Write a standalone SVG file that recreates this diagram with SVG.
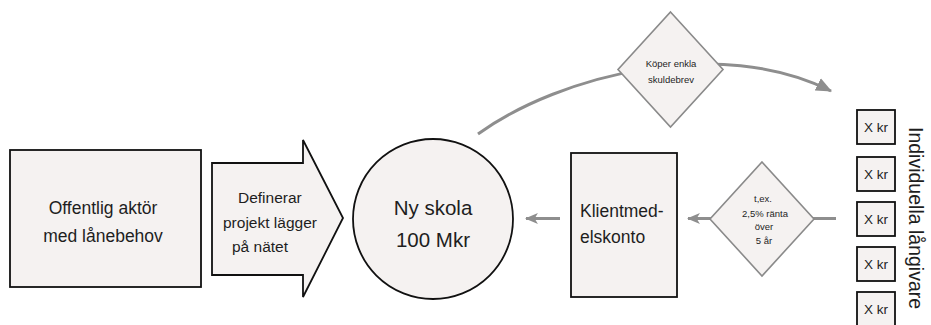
<svg xmlns="http://www.w3.org/2000/svg" width="931" height="325" viewBox="0 0 931 325">
  <style>
    .box { fill: #f5f2f1; stroke: #111; stroke-width: 1.8; }
    .dia { fill: #f5f2f1; stroke: #8a8a8a; stroke-width: 1.6; }
    .conn { fill: none; stroke: #8e8e8e; stroke-width: 3; }
    .t { font-family: "Liberation Sans", Arial, Helvetica, sans-serif; fill: #1e1e1e; }
    .big { font-size: 17.5px; }
    .mid { font-size: 15.5px; }
    .huge { font-size: 20.5px; }
    .small { font-size: 9.5px; }
    .kr { font-size: 13.5px; }
  </style>
  <defs>
    <marker id="headSmall" viewBox="0 0 12 10" refX="11" refY="5" markerUnits="userSpaceOnUse" markerWidth="13" markerHeight="11" orient="auto">
      <path d="M0,0 L12,5 L0,10 L3,5 Z" fill="#8e8e8e"/>
    </marker>
    <marker id="headBig" viewBox="0 0 14 12" refX="13" refY="6" markerUnits="userSpaceOnUse" markerWidth="16" markerHeight="14" orient="auto">
      <path d="M0,0 L14,6 L0,12 Z" fill="#8e8e8e"/>
    </marker>
  </defs>

  <!-- connectors -->
  <g id="connectors">
    <path class="conn" d="M478,134 C560,75 720,35 831,91" marker-end="url(#headBig)"/>
    <line class="conn" x1="836" y1="218.5" x2="810" y2="218.5"/>
    <line class="conn" x1="712" y1="218.5" x2="688" y2="218.5" marker-end="url(#headSmall)"/>
    <line class="conn" x1="560" y1="218.5" x2="526" y2="218.5" marker-end="url(#headSmall)"/>
  </g>

  <g id="actor">
    <rect class="box" x="10" y="150" width="191" height="137"/>
    <text class="t big" x="103" y="214" text-anchor="middle">Offentlig aktör</text>
    <text class="t big" x="103" y="242" text-anchor="middle">med lånebehov</text>
  </g>

  <g id="define">
    <path class="box" d="M212,163 L303,163 L303,140 L343,218 L303,297 L303,275 L212,275 Z"/>
    <text class="t mid" x="238" y="203">Definerar</text>
    <text class="t mid" x="223" y="228">projekt lägger</text>
    <text class="t mid" x="232" y="252">på nätet</text>
  </g>

  <g id="school">
    <circle class="box" cx="433" cy="219" r="80"/>
    <text class="t huge" x="433" y="215" text-anchor="middle">Ny skola</text>
    <text class="t huge" x="433" y="246.5" text-anchor="middle">100 Mkr</text>
  </g>

  <g id="account">
    <rect class="box" x="571" y="153" width="106" height="144"/>
    <text class="t big" x="580" y="216.5">Klientmed-</text>
    <text class="t big" x="580" y="243">elskonto</text>
  </g>

  <g id="buy">
    <path class="dia" d="M670.5,12 L723,69.5 L670.5,127 L618,69.5 Z"/>
    <text class="t small" x="671" y="67" text-anchor="middle">Köper enkla</text>
    <text class="t small" x="671" y="83" text-anchor="middle">skuldebrev</text>
  </g>

  <g id="rate">
    <path class="dia" d="M762,162 L814,219 L762,276 L710,219 Z"/>
    <text class="t small" x="763" y="201.5" text-anchor="middle">t,ex.</text>
    <text class="t small" x="765" y="216.5" text-anchor="middle">2,5% ränta</text>
    <text class="t small" x="764" y="230" text-anchor="middle">över</text>
    <text class="t small" x="764" y="244" text-anchor="middle">5 år</text>
  </g>

  <g id="lenders">
    <rect class="box" x="857" y="110" width="38" height="34"/>
    <text class="t kr" x="876" y="131.5" text-anchor="middle">X kr</text>
    <rect class="box" x="857" y="157" width="38" height="34"/>
    <text class="t kr" x="876" y="178.5" text-anchor="middle">X kr</text>
    <rect class="box" x="857" y="202" width="38" height="34"/>
    <text class="t kr" x="876" y="223.5" text-anchor="middle">X kr</text>
    <rect class="box" x="857" y="247" width="38" height="34"/>
    <text class="t kr" x="876" y="268.5" text-anchor="middle">X kr</text>
    <rect class="box" x="857" y="292" width="38" height="34"/>
    <text class="t kr" x="876" y="313.5" text-anchor="middle">X kr</text>
    <text class="t" font-size="19.5" transform="translate(909,127) rotate(90)">Individuella långivare</text>
  </g>
</svg>
